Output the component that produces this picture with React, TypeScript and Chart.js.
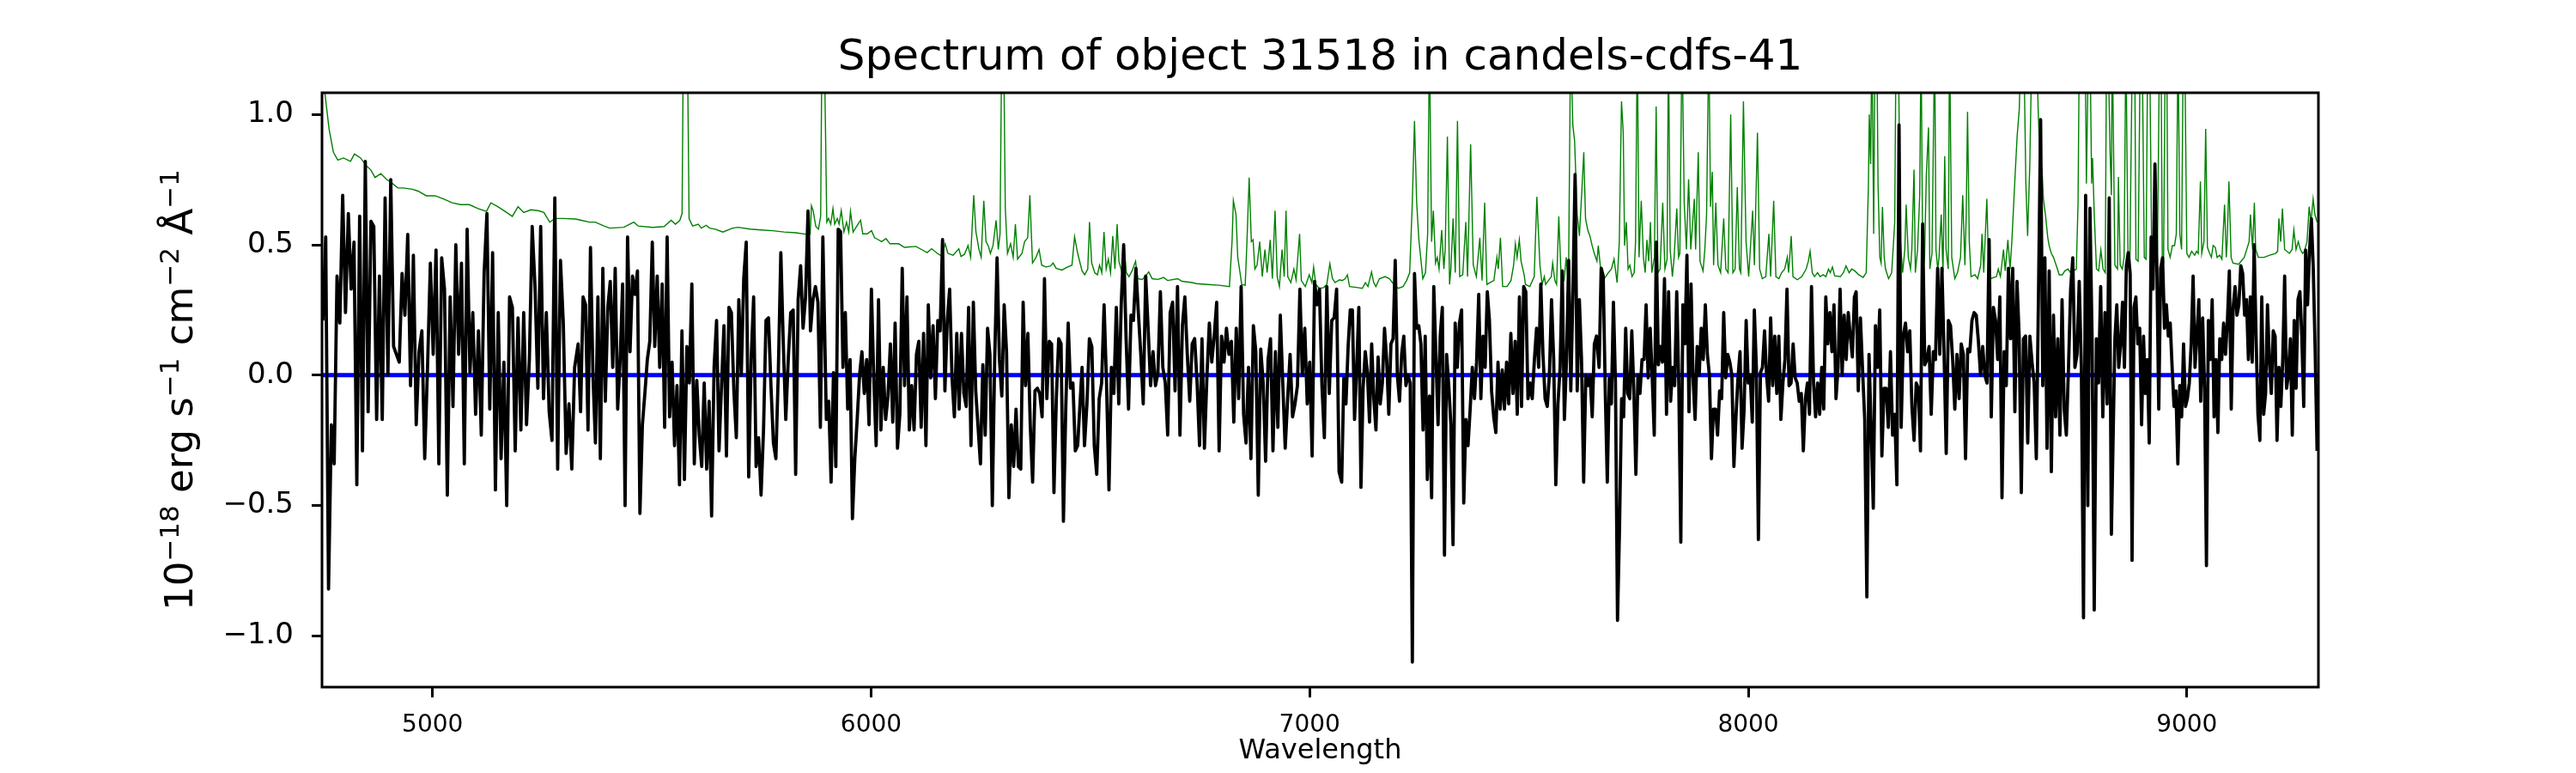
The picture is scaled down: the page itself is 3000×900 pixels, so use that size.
import { useEffect, useRef } from "react";
import { Chart, registerables } from "chart.js";
Chart.register(...registerables);

// ── Text ──────────────────────────────────────────────────────────────────────

const TITLE   = "Spectrum of object 31518 in candels-cdfs-41";
const X_LABEL = "Wavelength";
// y label as [text, superscript?] runs
const Y_LABEL_PARTS: [string, boolean][] = [
  ["10", false], ["\u221218", true],
  [" erg s", false], ["\u22121", true],
  [" cm", false], ["\u22122", true],
  [" \u00C5", false], ["\u22121", true],
];
const FONT = "DejaVu Sans";

// ── Axes ──────────────────────────────────────────────────────────────────────

const X_MIN = 4748;
const X_MAX = 9300;
const Y_MIN = -1.196;
const Y_MAX = 1.083;
const X_TICKS = [5000, 6000, 7000, 8000, 9000];
const Y_TICKS = [-1.0, -0.5, 0.0, 0.5, 1.0];

// ── Flux (black) in pieces ───────────────────────────────────────────────────

// 4750 – 5324 Å
const FLUX_A = [
  0.21, 0.53, -0.82, -0.19, -0.34, 0.38, 0.2, 0.69, 0.24, 0.62,
  0.33, 0.51, -0.42, 0.61, -0.29, 0.82, -0.14, 0.59, 0.57, -0.17,
  0.38, -0.17, 0.68, 0.0, 0.75, 0.11, 0.08, 0.05, 0.39, 0.23,
  0.54, -0.04, 0.46, -0.19, 0.09, 0.17, -0.32, 0.03, 0.43, 0.08,
  0.48, -0.34, 0.45, 0.33, -0.46, 0.3, -0.12, 0.5, 0.08, 0.43,
  -0.34, 0.56, 0.01, 0.24, -0.15, 0.17, -0.23, 0.39, 0.62, -0.13,
  0.47, -0.44, 0.24, -0.32, 0.05, -0.5, 0.3, 0.26, -0.29, 0.22,
  -0.21, 0.24, -0.19, 0.06, 0.57, 0.34, -0.05, 0.57, -0.09, 0.24,
  -0.14, -0.25, 0.68, -0.36, 0.44, 0.2, -0.3, -0.11, -0.36, 0.03,
];

// 5332 – 5890 Å
const FLUX_B = [
  0.12, -0.14, 0.30, 0.27, -0.21, 0.49, 0.0, -0.26, 0.30, -0.32,
  0.41, -0.10, 0.26, 0.36, 0.03, 0.41, -0.13, 0.06, 0.35, -0.5,
  0.53, 0.09, 0.38, 0.31, 0.40, -0.53, -0.19, -0.07, 0.06, 0.13,
  0.51, 0.11, 0.38, 0.03, 0.35, -0.2, 0.53, -0.16, 0.05, -0.27,
  -0.04, -0.42, 0.17, -0.4, 0.11, -0.03, 0.35, -0.34, -0.02, -0.23,
  -0.35, -0.03, -0.36, -0.1, -0.54, 0.03, 0.21, -0.29, -0.04, 0.19,
  -0.31, 0.26, 0.24, -0.06, -0.24, 0.29, 0.0, 0.37, 0.51, -0.39,
  0.06, 0.30, -0.35, -0.24, -0.46, -0.21, 0.21, 0.22, -0.04, -0.26,
  -0.32, 0.02, 0.47, 0.12, -0.17, 0.06, 0.24, 0.25, -0.38, 0.29,
  0.42, 0.18, 0.30, 0.63, 0.17, 0.29, 0.34, 0.28, -0.2, 0.53,
];

// 5898 – 6471 Å
const FLUX_C = [
  -0.17, -0.10, -0.41, 0.01, -0.35, 0.56, 0.55, 0.03, 0.24,
  -0.13, 0.06, -0.55, -0.32, -0.17, 0.0, 0.09, -0.07, 0.06, -0.19,
  0.33, -0.01, -0.27, 0.29, -0.21, 0.03, -0.17, -0.08, 0.12, -0.18,
  0.2, -0.28, -0.15, 0.41, -0.04, 0.3, -0.21, -0.04, -0.21, 0.08,
  0.13, -0.2, 0.16, -0.27, 0.27, -0.01, 0.19, -0.09, 0.21, 0.17,
  0.52, -0.06, 0.21, 0.33, -0.01, -0.16, 0.16, -0.13, 0.16, -0.07,
  -0.12, 0.26, -0.27, 0.28, -0.06, -0.2, -0.34, 0.04, -0.23, 0.18,
  0.08, -0.5, 0.06, 0.45, 0.06, -0.08, 0.27, 0.09, -0.47, -0.19,
  -0.35, -0.13, -0.35, -0.36, 0.28, -0.04, 0.16, -0.19, -0.41, -0.06,
  -0.05, -0.07, -0.16, 0.37, -0.09, 0.13, 0.12, -0.45, -0.09, 0.14,
  0.12, -0.56, -0.12, 0.2, -0.05, -0.03, -0.29, -0.27,
];

// 6481 – 7067 Å
const FLUX_D = [
  0.03, -0.27, -0.11, 0.14, 0.11, -0.27, -0.38, -0.09, -0.03, 0.27,
  -0.03, -0.44, 0.03, -0.07, 0.26, -0.11, 0.27, 0.5, 0.14, -0.13,
  0.23, 0.21, 0.41, 0.24, 0.08, -0.11, 0.38, 0.18, -0.04, 0.09,
  -0.04, 0.01, 0.32, 0.03, -0.03, -0.23, 0.24, 0.28, -0.06, 0.34,
  -0.23, 0.19, 0.3, 0.08, -0.1, 0.12, 0.14, -0.03, -0.27, 0.14,
  -0.28, -0.01, 0.2, 0.05, 0.15, 0.28, -0.29, 0.15, 0.05, 0.18,
  0.08, 0.13, -0.18, 0.18, -0.09, 0.34, -0.15, -0.26, 0.03, -0.32,
  0.19, 0.09, -0.46, 0.1, -0.03, -0.33, 0.06, 0.14, -0.29, 0.09,
  -0.2, 0.23, -0.03, -0.28, -0.09, 0.08, -0.16, -0.11, -0.04, 0.33,
  0.0, 0.18, -0.11, 0.05, -0.31, 0.36, 0.27, 0.33, -0.04, -0.24,
  0.34, -0.07, 0.21, 0.22, 0.33, -0.37,
];

// 7073 – 7654 Å
const FLUX_E = [
  -0.41, -0.01, -0.11, 0.11, 0.25, 0.25, -0.17, 0.03, 0.26, -0.43,
  -0.05, 0.09, 0.01, -0.18, 0.12, -0.09, -0.21, 0.07, -0.11, -0.03,
  0.18, 0.06, -0.15, 0.12, 0.14, 0.44, 0.0, -0.1, 0.08, 0.15,
  -0.04, 0.0, -0.03, -1.1, 0.39, 0.18, 0.19, 0.12, -0.21, 0.15,
  -0.4, -0.08, -0.47, 0.34, 0.08, -0.19, 0.15, 0.26, -0.69, 0.08,
  -0.04, -0.19, -0.65, 0.2, 0.03, 0.2, 0.25, -0.49, -0.17, -0.27,
  -0.13, 0.03, -0.09, 0.05, 0.31, -0.09, 0.15, 0.03, 0.32, 0.21,
  -0.06, -0.16, -0.22, 0.05, -0.13, 0.02, -0.13, 0.05, -0.11, 0.16,
  -0.07, 0.13, -0.15, 0.3, -0.12, 0.34, 0.32, -0.09, -0.03, -0.09,
  0.06, 0.18, 0.03, 0.35, 0.08, -0.09, -0.12, 0.0, 0.29, 0.06,
  -0.42, -0.11, 0.03, 0.4, -0.17, 0.06, 0.44, -0.06, 0.32, 0.77,
  -0.06, 0.29, 0.06, -0.41, 0.0, -0.04, 0.0, -0.16, 0.12, 0.15,
];

// 7660 – 8242 Å
const FLUX_F = [
  0.03, 0.41, 0.38, -0.06, -0.41, -0.01, -0.11, 0.28, -0.03, -0.94,
  -0.58, -0.09, -0.16, 0.18, -0.07, -0.09, 0.17, -0.06, -0.38, 0.0,
  -0.07, 0.06, 0.06, 0.27, -0.01, 0.18, -0.01, -0.23, 0.51, 0.04,
  0.11, 0.05, 0.37, -0.15, 0.32, -0.1, 0.03, -0.04, 0.32, -0.03,
  -0.64, 0.27, 0.12, 0.46, -0.14, 0.35, -0.01, -0.17, 0.11, 0.0,
  0.18, 0.06, 0.27, 0.08, 0.0, -0.32, -0.13, -0.13, -0.23, -0.06,
  -0.09, 0.24, -0.01, 0.08, 0.05, 0.0, -0.35, -0.16, -0.01, 0.09,
  -0.28, -0.13, 0.21, -0.03, 0.0, -0.18, 0.25, 0.03, -0.63, 0.01,
  0.03, 0.17, 0.0, -0.1, 0.22, -0.04, 0.15, -0.07, 0.15, -0.17,
  -0.03, 0.06, 0.33, -0.04, -0.03, 0.12, -0.01, -0.03, -0.1, -0.07,
  -0.29, -0.09, -0.03, -0.15, 0.34, -0.03, -0.16, -0.03, -0.15, 0.03,
  -0.13, 0.3, 0.12, 0.24, 0.09, 0.27, -0.09, 0.03, 0.33, 0.0,
  0.23, 0.06, 0.24, 0.15, 0.07, 0.3,
];

// 8246 – 8828 Å
const FLUX_G = [
  0.32, -0.06, 0.22, 0.02, -0.17, -0.85, 0.08, -0.2, -0.51, 0.19,
  0.03, 0.25, -0.31, -0.05, -0.05, -0.2, 0.09, -0.23, -0.15, -0.42,
  0.96, -0.2, 0.15, 0.2, 0.09, 0.17, -0.12, -0.25, -0.03, -0.05,
  -0.29, 0.58, 0.04, 0.06, 0.11, -0.15, 0.09, 0.06, 0.41, 0.08,
  0.41, 0.08, -0.3, 0.21, 0.19, 0.06, -0.13, 0.08, -0.09, 0.12,
  0.08, -0.32, 0.1, 0.09, 0.21, 0.24, 0.23, 0.13, 0.0, 0.11,
  0.0, -0.03, 0.52, -0.16, 0.26, 0.21, 0.06, 0.3, -0.47, 0.09,
  -0.04, 0.41, 0.14, 0.41, -0.14, 0.36, 0.15, -0.45, 0.14, 0.15,
  -0.26, 0.15, 0.05, -0.03, -0.32, 0.3, 0.98, -0.04, 0.45, -0.28,
  0.4, -0.37, 0.23, -0.16, 0.14, -0.23, 0.29, -0.13, -0.23, 0.03,
  0.33, 0.45, 0.03, 0.08, 0.36, 0.03, -0.93, 0.69, -0.5, 0.64,
  0.14, -0.9, 0.14, -0.03, 0.34, -0.16, 0.24, -0.11, 0.68, -0.61,
];

// 8836 – 9297 Å
const FLUX_H = [
  0.14, 0.27, 0.03, 0.12, 0.28, 0.03, 0.42, 0.47, 0.39, -0.71,
  0.26, 0.3, 0.12, 0.18, -0.19, 0.15, -0.07, 0.06, -0.26, 0.53,
  0.33, 0.81, 0.41, -0.13, 0.41, 0.45, 0.18, 0.27, 0.15, 0.2,
  0.03, -0.12, -0.06, -0.34, -0.04, -0.16, 0.12, -0.12, -0.09, -0.03,
  0.12, 0.38, 0.03, 0.15, 0.29, -0.1, 0.22, -0.05, -0.73, 0.21,
  0.06, 0.29, -0.16, 0.06, -0.22, 0.14, 0.06, 0.2, 0.08, 0.21,
  0.4, -0.13, 0.26, 0.34, 0.23, 0.27, 0.42, 0.39, 0.23, 0.29,
  0.06, 0.3, 0.05, 0.5, 0.15, -0.15, -0.25, 0.3, -0.15, -0.07,
  0.27, 0.05, -0.07, 0.17, 0.15, -0.25, 0.03, -0.12, 0.06, 0.38,
  -0.05, 0.0, 0.14, -0.23, 0.21, -0.05, 0.29, 0.32, 0.15, -0.12,
  0.48, 0.27, 0.47, 0.6, 0.41, 0.09, -0.29,
];

// wavelength range of each piece, Å
const FLUX_PIECES = [
  { from: 4750, to: 5324, flux: FLUX_A },
  { from: 5332, to: 5890, flux: FLUX_B },
  { from: 5898, to: 6471, flux: FLUX_C },
  { from: 6481, to: 7067, flux: FLUX_D },
  { from: 7073, to: 7654, flux: FLUX_E },
  { from: 7660, to: 8242, flux: FLUX_F },
  { from: 8246, to: 8828, flux: FLUX_G },
  { from: 8836, to: 9297, flux: FLUX_H },
];

// ── Noise (green): [wavelength Å, value]; sky lines run off the top ─────────

const NOISE_BLUE: [number, number][] = [
  [4752, 1.12], [4764, 0.945], [4774, 0.855], [4784, 0.825], [4797, 0.833],
  [4813, 0.82], [4822, 0.848], [4836, 0.833], [4849, 0.803], [4859, 0.788],
  [4869, 0.758], [4882, 0.773], [4895, 0.751], [4908, 0.736], [4921, 0.718],
  [4934, 0.718], [4954, 0.713], [4967, 0.706], [4986, 0.688], [5006, 0.688],
  [5025, 0.676], [5045, 0.661], [5064, 0.654], [5084, 0.654], [5104, 0.639],
  [5123, 0.628], [5133, 0.661], [5149, 0.646], [5169, 0.624], [5182, 0.609],
  [5195, 0.646], [5208, 0.624], [5224, 0.634], [5241, 0.631], [5254, 0.624],
  [5267, 0.587], [5280, 0.601], [5299, 0.601], [5326, 0.599], [5339, 0.594],
  [5358, 0.587], [5371, 0.587], [5391, 0.572], [5404, 0.564], [5436, 0.567],
  [5459, 0.587], [5469, 0.572], [5502, 0.567], [5528, 0.57], [5544, 0.594],
  [5554, 0.579], [5564, 0.594], [5569, 0.62], [5572, 1.3], [5581, 1.3],
  [5585, 0.6], [5593, 0.572], [5606, 0.579], [5613, 0.564], [5624, 0.575],
  [5632, 0.564], [5645, 0.56], [5662, 0.549], [5684, 0.564], [5697, 0.567],
  [5724, 0.56], [5750, 0.557], [5776, 0.554], [5802, 0.549], [5828, 0.546],
  [5854, 0.54], [5861, 0.54], [5864, 0.65], [5868, 0.63], [5874, 0.57],
  [5880, 0.56], [5885, 0.61], [5888, 1.3], [5893, 1.3], [5899, 0.587],
  [5903, 0.601], [5908, 0.579], [5913, 0.639], [5917, 0.579], [5923, 0.601],
  [5927, 0.579], [5932, 0.631], [5938, 0.549], [5944, 0.587], [5949, 0.549],
  [5953, 0.628], [5959, 0.549], [5970, 0.579], [5976, 0.594], [5981, 0.542],
  [5991, 0.542], [6001, 0.554], [6008, 0.527], [6017, 0.519], [6024, 0.512],
  [6034, 0.524], [6043, 0.504], [6063, 0.504], [6076, 0.49], [6102, 0.494],
  [6115, 0.482], [6128, 0.47], [6138, 0.485], [6151, 0.467], [6161, 0.457],
  [6169, 0.504], [6175, 0.467], [6187, 0.46], [6200, 0.485], [6205, 0.455],
  [6213, 0.464], [6221, 0.497], [6227, 0.452], [6234, 0.69], [6239, 0.55],
  [6246, 0.482], [6251, 0.452], [6257, 0.669], [6262, 0.512], [6267, 0.497],
  [6272, 0.467], [6278, 0.497], [6285, 0.594], [6290, 0.482], [6294, 0.542],
  [6298, 1.3], [6302, 1.3], [6306, 0.639], [6311, 0.467], [6318, 0.504],
  [6324, 0.452], [6329, 0.579], [6334, 0.445], [6344, 0.467], [6350, 0.512],
  [6357, 0.527], [6362, 0.69], [6368, 0.43], [6376, 0.452], [6383, 0.482],
  [6389, 0.422], [6399, 0.415], [6409, 0.419], [6415, 0.43], [6422, 0.41],
  [6435, 0.403], [6448, 0.415], [6458, 0.422], [6464, 0.531], [6471, 0.467],
  [6481, 0.40],
];

const NOISE_RED: [number, number][] = [
  [6487, 0.385], [6494, 0.407], [6498, 0.587], [6503, 0.43], [6510, 0.393],
  [6516, 0.385], [6521, 0.422], [6526, 0.393], [6531, 0.549], [6536, 0.407],
  [6541, 0.445], [6546, 0.393], [6551, 0.534], [6556, 0.407], [6561, 0.579],
  [6565, 0.437], [6572, 0.393], [6577, 0.497], [6582, 0.393], [6588, 0.378],
  [6595, 0.40], [6603, 0.437], [6608, 0.37], [6618, 0.367], [6625, 0.378],
  [6633, 0.396], [6641, 0.37], [6654, 0.367], [6667, 0.375], [6676, 0.363],
  [6699, 0.37], [6709, 0.36], [6732, 0.355], [6742, 0.351], [6768, 0.348],
  [6794, 0.345], [6817, 0.34], [6823, 0.512], [6826, 0.669], [6832, 0.616],
  [6836, 0.452], [6840, 0.407], [6845, 0.348], [6853, 0.345], [6857, 0.512],
  [6862, 0.758], [6867, 0.512], [6871, 0.519], [6875, 0.407], [6880, 0.422],
  [6886, 0.512], [6892, 0.378], [6898, 0.482], [6903, 0.393], [6910, 0.519],
  [6915, 0.37], [6921, 0.631], [6926, 0.378], [6931, 0.34], [6937, 0.482],
  [6942, 0.378], [6946, 0.631], [6950, 0.378], [6957, 0.355], [6964, 0.407],
  [6969, 0.366], [6977, 0.542], [6981, 0.363], [6990, 0.34], [6999, 0.385],
  [7005, 0.355], [7009, 0.415], [7014, 0.348], [7022, 0.333], [7032, 0.336],
  [7039, 0.348], [7046, 0.427], [7052, 0.37], [7058, 0.355], [7068, 0.366],
  [7074, 0.363], [7081, 0.37], [7086, 0.385], [7091, 0.34], [7110, 0.336],
  [7120, 0.333], [7127, 0.355], [7133, 0.34], [7141, 0.396], [7146, 0.355],
  [7151, 0.34], [7159, 0.37], [7172, 0.378], [7182, 0.37], [7192, 0.348],
  [7202, 0.333], [7213, 0.34], [7221, 0.363], [7228, 0.393], [7234, 0.661],
  [7239, 0.975], [7244, 0.661], [7249, 0.519], [7254, 0.437], [7258, 0.37],
  [7264, 0.393], [7269, 0.542], [7273, 1.3], [7278, 0.512], [7282, 0.631],
  [7287, 0.43], [7291, 0.452], [7295, 0.407], [7301, 0.557], [7306, 0.407],
  [7309, 0.482], [7314, 0.915], [7319, 0.348], [7322, 0.407], [7327, 0.601],
  [7332, 0.393], [7337, 0.975], [7342, 0.378], [7349, 0.385], [7356, 0.587],
  [7360, 0.378], [7367, 0.885], [7373, 0.422], [7380, 0.378], [7388, 0.527],
  [7393, 0.363], [7399, 0.661], [7404, 0.348], [7411, 0.355], [7420, 0.363],
  [7427, 0.452], [7430, 0.407], [7435, 0.527], [7440, 0.34], [7450, 0.34],
  [7459, 0.363], [7465, 0.422], [7469, 0.504], [7473, 0.452], [7478, 0.519],
  [7482, 0.437], [7489, 0.385], [7492, 0.348], [7502, 0.34], [7512, 0.378],
  [7518, 0.684], [7525, 0.422], [7530, 0.348], [7535, 0.378], [7538, 0.348],
  [7551, 0.378], [7554, 0.43], [7559, 0.363], [7563, 0.348], [7568, 0.609],
  [7574, 0.348], [7580, 0.363], [7585, 0.452], [7590, 0.333], [7595, 1.3],
  [7600, 0.96], [7604, 0.90], [7610, 0.616], [7615, 0.534], [7621, 0.721],
  [7625, 0.855], [7629, 0.601], [7634, 0.557], [7639, 0.534], [7644, 0.497],
  [7649, 0.467], [7655, 0.437],
];

const NOISE_NIR: [number, number][] = [
  [7658, 0.497], [7663, 0.415], [7668, 0.363], [7675, 0.378], [7681, 0.393],
  [7688, 0.407], [7694, 0.445], [7701, 0.355], [7706, 0.512], [7711, 1.05],
  [7715, 0.93], [7718, 0.497], [7722, 0.587], [7726, 0.407], [7730, 0.422],
  [7735, 0.378], [7740, 0.393], [7743, 0.512], [7747, 1.3], [7751, 0.452],
  [7756, 0.669], [7761, 0.452], [7765, 0.393], [7769, 0.519], [7773, 0.437],
  [7777, 0.587], [7780, 0.393], [7786, 0.452], [7790, 1.03], [7794, 0.393],
  [7799, 0.407], [7805, 0.661], [7810, 0.407], [7815, 0.445], [7818, 1.3],
  [7822, 0.482], [7827, 0.378], [7831, 0.452], [7837, 0.639], [7841, 0.452],
  [7844, 0.467], [7849, 1.3], [7854, 0.661], [7859, 0.482], [7864, 0.751],
  [7869, 0.482], [7877, 0.676], [7880, 0.482], [7886, 0.855], [7890, 0.437],
  [7897, 0.40], [7901, 0.482], [7905, 0.616], [7910, 1.3], [7914, 0.646],
  [7918, 0.78], [7921, 0.422], [7926, 0.661], [7931, 0.422], [7937, 0.393],
  [7944, 0.601], [7949, 0.407], [7954, 0.393], [7960, 1.0], [7965, 0.393],
  [7970, 0.407], [7975, 0.721], [7980, 0.407], [7983, 0.393], [7989, 1.05],
  [7995, 0.512], [8001, 0.378], [8010, 0.631], [8014, 0.422], [8021, 0.93],
  [8026, 0.407], [8032, 0.37], [8040, 0.378], [8047, 0.542], [8051, 0.378],
  [8058, 0.669], [8063, 0.378], [8070, 0.37], [8076, 0.393], [8083, 0.407],
  [8089, 0.452], [8092, 0.393], [8098, 0.534], [8102, 0.378], [8112, 0.366],
  [8122, 0.378], [8132, 0.407], [8137, 0.437], [8141, 0.475], [8146, 0.393],
  [8151, 0.378], [8158, 0.393], [8164, 0.378], [8171, 0.385], [8177, 0.378],
  [8183, 0.407], [8187, 0.393], [8192, 0.415], [8197, 0.381], [8210, 0.378],
  [8217, 0.393], [8223, 0.419], [8230, 0.393], [8236, 0.407], [8243, 0.40],
  [8252, 0.385], [8262, 0.375], [8269, 0.393], [8274, 0.73], [8276, 1.0],
  [8279, 0.81], [8282, 1.3], [8286, 0.542], [8289, 1.3], [8293, 1.3],
  [8296, 0.73], [8300, 0.452], [8303, 0.43], [8306, 0.645], [8310, 0.452],
  [8313, 0.407], [8320, 0.37], [8327, 0.393], [8334, 0.587], [8337, 1.3],
  [8342, 1.3], [8347, 0.512], [8352, 0.393], [8357, 0.482], [8360, 0.654],
  [8365, 0.452], [8370, 0.407], [8373, 0.482], [8378, 0.788], [8381, 0.393],
  [8386, 0.482], [8391, 0.69], [8394, 1.3], [8398, 0.393], [8402, 0.452],
  [8406, 0.765], [8411, 0.95], [8414, 0.407], [8419, 0.467], [8425, 1.3],
  [8428, 0.482], [8432, 0.407], [8435, 0.452], [8440, 0.616], [8444, 0.393],
  [8448, 0.84], [8451, 0.482], [8456, 0.407], [8459, 1.3], [8464, 0.452],
  [8471, 0.37], [8477, 0.393], [8484, 0.452], [8489, 0.69], [8494, 0.422],
  [8497, 0.616], [8500, 1.01], [8504, 0.512], [8508, 0.378], [8517, 0.385],
  [8523, 0.37], [8530, 0.422], [8533, 0.542], [8537, 0.393], [8544, 0.676],
  [8548, 0.422], [8552, 0.37], [8566, 0.378], [8570, 0.407], [8575, 0.378],
  [8582, 0.482], [8586, 0.40], [8592, 0.519], [8597, 0.407], [8601, 0.512],
  [8608, 0.751], [8613, 0.915], [8618, 1.02], [8622, 1.3], [8628, 1.3],
  [8633, 0.735], [8637, 0.534], [8642, 0.81], [8647, 1.3], [8652, 1.2],
  [8657, 1.3], [8661, 1.02], [8665, 0.825], [8670, 0.788], [8673, 0.676],
  [8678, 0.609], [8683, 0.527], [8686, 0.497], [8691, 0.467], [8696, 0.452],
  [8705, 0.407], [8709, 0.385], [8716, 0.385], [8722, 0.40], [8729, 0.407],
  [8735, 0.393], [8742, 0.40], [8748, 0.407], [8752, 0.661], [8755, 1.3],
  [8761, 1.3], [8768, 1.3], [8771, 0.735], [8776, 1.3], [8779, 1.3],
  [8783, 0.735], [8785, 0.833], [8789, 0.616], [8794, 0.407], [8799, 0.40],
  [8804, 0.48], [8809, 0.407], [8814, 0.393], [8817, 1.3], [8820, 1.3],
  [8825, 0.855], [8828, 0.69], [8830, 1.3], [8836, 0.422], [8842, 0.407],
  [8844, 0.76], [8848, 0.422], [8853, 0.407], [8857, 0.452], [8861, 1.3],
  [8866, 0.437], [8870, 0.422], [8876, 1.3], [8881, 1.3], [8884, 0.445],
  [8889, 0.437], [8894, 1.3], [8898, 1.3], [8903, 0.452], [8907, 0.445],
  [8911, 1.3], [8915, 1.3], [8920, 0.452], [8925, 0.527], [8930, 0.482],
  [8933, 0.482], [8938, 1.3], [8941, 1.3], [8944, 0.452], [8947, 0.437],
  [8951, 1.3], [8954, 1.3], [8957, 0.482], [8962, 0.452], [8967, 0.497],
  [8972, 0.497], [8976, 0.542], [8980, 1.3], [8984, 0.542], [8988, 0.482],
  [8992, 1.3], [8995, 1.3], [9000, 0.467], [9005, 0.452], [9011, 0.475],
  [9018, 0.46], [9022, 0.475], [9026, 0.467], [9031, 0.743], [9034, 0.467],
  [9039, 0.512], [9043, 0.945], [9047, 0.49], [9052, 0.467], [9056, 0.452],
  [9060, 0.497], [9065, 0.49], [9069, 0.452], [9075, 0.46], [9080, 0.445],
  [9086, 0.654], [9090, 0.452], [9092, 0.512], [9096, 0.743], [9101, 0.452],
  [9105, 0.43], [9118, 0.425], [9131, 0.452], [9142, 0.512], [9145, 0.616],
  [9150, 0.482], [9154, 0.661], [9157, 0.482], [9163, 0.452], [9176, 0.452],
  [9189, 0.46], [9202, 0.467], [9207, 0.475], [9210, 0.601], [9214, 0.512],
  [9218, 0.639], [9223, 0.482], [9234, 0.467], [9240, 0.482], [9244, 0.557],
  [9249, 0.482], [9254, 0.512], [9259, 0.482], [9264, 0.467], [9268, 0.475],
  [9274, 0.512], [9279, 0.646], [9283, 0.587], [9288, 0.676], [9292, 0.616],
  [9297, 0.587],
];

// ── Zero level (blue) ────────────────────────────────────────────────────────

const ZERO_WAVE = [4748, 9300];
const ZERO_FLUX = [0, 0];

// ── Helpers ──────────────────────────────────────────────────────────────────

const fmtY = (v: number) => {
  const s = Math.abs(v).toFixed(1);
  return v < -1e-9 ? "\u2212" + s : s;
};

const fluxPoints = () =>
  FLUX_PIECES.flatMap(({ from, to, flux }) =>
    flux.map((y, i) => ({ x: from + ((to - from) * i) / (flux.length - 1), y })),
  );

// box round the plot, like matplotlib spines
const framePlugin = {
  id: "frame",
  afterDraw(chart: Chart) {
    const { ctx, chartArea: a } = chart;
    ctx.save();
    ctx.strokeStyle = "#000";
    ctx.lineWidth = 3;
    ctx.strokeRect(a.left, a.top, a.right - a.left, a.bottom - a.top);
    ctx.restore();
  },
};

// rotated y label with real superscripts
const yLabelPlugin = {
  id: "yLabel",
  afterDraw(chart: Chart) {
    const { ctx, chartArea: a } = chart;
    const base = `45px "${FONT}"`;
    const sup = `31px "${FONT}"`;
    ctx.save();
    let total = 0;
    for (const [t, s] of Y_LABEL_PARTS) {
      ctx.font = s ? sup : base;
      total += ctx.measureText(t).width;
    }
    ctx.translate(224, (a.top + a.bottom) / 2);
    ctx.rotate(-Math.PI / 2);
    ctx.fillStyle = "#000";
    ctx.textAlign = "left";
    ctx.textBaseline = "alphabetic";
    let x = -total / 2;
    for (const [t, s] of Y_LABEL_PARTS) {
      ctx.font = s ? sup : base;
      ctx.fillText(t, x, s ? -16 : 0);
      x += ctx.measureText(t).width;
    }
    ctx.restore();
  },
};

// ── Chart ────────────────────────────────────────────────────────────────────

function SpectrumChart() {
  const ref = useRef<HTMLCanvasElement>(null);
  const chartRef = useRef<Chart | null>(null);

  useEffect(() => {
    if (!ref.current) return;
    chartRef.current?.destroy();

    const noise = [...NOISE_BLUE, ...NOISE_RED, ...NOISE_NIR].map(([x, y]) => ({ x, y }));
    const zero = ZERO_WAVE.map((x, i) => ({ x, y: ZERO_FLUX[i] }));

    chartRef.current = new Chart(ref.current, {
      type: "line",
      data: {
        datasets: [
          {
            label: "flux",
            data: fluxPoints(),
            borderColor: "#000000",
            borderWidth: 3.8,
            borderJoinStyle: "round",
            pointRadius: 0,
            tension: 0,
            order: 0,
          },
          {
            label: "zero",
            data: zero,
            borderColor: "#0000ff",
            borderWidth: 5,
            pointRadius: 0,
            order: 1,
          },
          {
            label: "noise",
            data: noise,
            borderColor: "#008000",
            borderWidth: 1.4,
            pointRadius: 0,
            tension: 0,
            order: 2,
          },
        ],
      },
      options: {
        responsive: false,
        animation: false,
        devicePixelRatio: 1,
        layout: { padding: { left: 0, right: 300, top: 0, bottom: 0 } },
        plugins: {
          legend: { display: false },
          tooltip: { enabled: false },
          title: {
            display: true,
            fullSize: false,
            text: TITLE,
            color: "#000",
            font: { family: FONT, size: 50, weight: "normal" },
            padding: { top: 38, bottom: 10 },
          },
        },
        scales: {
          x: {
            type: "linear",
            min: X_MIN,
            max: X_MAX,
            afterBuildTicks: (axis) => {
              axis.ticks = X_TICKS.map((value) => ({ value }));
            },
            afterFit: (scale) => {
              scale.height = 100;
            },
            grid: {
              display: true,
              drawOnChartArea: false,
              drawTicks: true,
              tickLength: 12,
              tickWidth: 3,
              tickColor: "#000",
            },
            border: { display: false },
            ticks: {
              color: "#000",
              font: { family: FONT, size: 28 },
              padding: 16,
              maxRotation: 0,
              callback: (v) => String(v),
            },
            title: {
              display: true,
              text: X_LABEL,
              color: "#000",
              font: { family: FONT, size: 32 },
              padding: { top: 0, bottom: 6 },
            },
          },
          y: {
            min: Y_MIN,
            max: Y_MAX,
            afterBuildTicks: (axis) => {
              axis.ticks = Y_TICKS.map((value) => ({ value }));
            },
            afterFit: (scale) => {
              scale.width = 375;
            },
            grid: {
              display: true,
              drawOnChartArea: false,
              drawTicks: true,
              tickLength: 12,
              tickWidth: 3,
              tickColor: "#000",
            },
            border: { display: false },
            ticks: {
              color: "#000",
              font: { family: FONT, size: 34 },
              padding: 21,
              callback: (v) => fmtY(Number(v)),
            },
          },
        },
      },
      plugins: [framePlugin, yLabelPlugin],
    });

    return () => chartRef.current?.destroy();
  }, []);

  return <canvas ref={ref} width={3000} height={900} style={{ display: "block" }} />;
}

export default function App() {
  useEffect(() => {
    document.body.style.margin = "0";
  }, []);
  return (
    <div style={{ width: 3000, height: 900, background: "#fff" }}>
      <SpectrumChart />
    </div>
  );
}
